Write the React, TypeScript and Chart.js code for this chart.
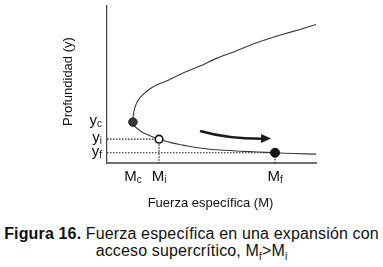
import React, { useEffect, useRef } from "react";
import { Chart, registerables } from "chart.js";

Chart.register(...registerables);

// Specific-force curve (M, y), upper branch then lower branch
const curveM = [10, 9.23, 8.42, 7.66, 6.84, 6.03, 5.26, 4.45, 3.64, 2.87, 2.44, 2.06, 1.72, 1.48, 1.34, 1.27, 1.25, 1.24, 1.31, 1.46, 1.67, 1.91, 2.2, 2.49, 2.82, 3.16, 3.64, 4.11, 4.93, 5.65, 6.36, 7.22, 8.04, 8.99, 10];
const curveY = [7.04, 6.79, 6.54, 6.29, 5.99, 5.63, 5.33, 4.93, 4.58, 4.18, 4.0, 3.77, 3.47, 3.17, 2.84, 2.52, 2.29, 2.08, 1.89, 1.74, 1.58, 1.46, 1.32, 1.21, 1.11, 1.01, 0.91, 0.81, 0.7, 0.65, 0.6, 0.56, 0.52, 0.48, 0.45];

// Key states: critical, initial, final
const pointNames = ["c", "i", "f"];
const pointM = [1.24, 2.49, 8.04];
const pointY = [2.08, 1.21, 0.52];
const pointFill = ["#3a3a3a", "#ffffff", "#111111"];

// Arrow (start, control, tip) in data units
const arrowM = [4.5, 5.79, 7.85];
const arrowY = [1.61, 1.22, 1.24];

const xTitle = "Fuerza específica (M)";
const yTitle = "Profundidad (y)";

const FONT = '"Liberation Sans", Arial, sans-serif';

function drawSub(ctx: CanvasRenderingContext2D, main: string, sub: string, x: number, y: number, align: "right" | "center") {
  ctx.save();
  ctx.textAlign = "left";
  ctx.textBaseline = "alphabetic";
  ctx.font = `15px ${FONT}`;
  const wm = ctx.measureText(main).width;
  ctx.font = `10px ${FONT}`;
  const ws = ctx.measureText(sub).width;
  const total = wm + ws;
  const sx = align === "right" ? x - total : x - total / 2;
  ctx.font = `15px ${FONT}`;
  ctx.fillText(main, sx, y);
  ctx.font = `10px ${FONT}`;
  ctx.fillText(sub, sx + wm, y + 2);
  ctx.restore();
}

const annotPlugin = {
  id: "annot",
  afterDraw(chart: any) {
    const ctx: CanvasRenderingContext2D = chart.ctx;
    const xs = chart.scales.x;
    const ys = chart.scales.y;
    const area = chart.chartArea;
    ctx.save();
    ctx.fillStyle = "#111";
    for (let i = 0; i < pointNames.length; i++) {
      const px = xs.getPixelForValue(pointM[i]);
      const py = ys.getPixelForValue(pointY[i]);
      drawSub(ctx, "y", pointNames[i], area.left - 5, py + 3, "right");
      drawSub(ctx, "M", pointNames[i], px, area.bottom + 18, "center");
    }
    ctx.font = `13px ${FONT}`;
    ctx.textAlign = "center";
    ctx.textBaseline = "alphabetic";
    ctx.fillText(xTitle, (area.left + area.right) / 2 - 1, area.bottom + 44);
    ctx.save();
    ctx.translate(area.left - 39, area.top + 76);
    ctx.rotate(-Math.PI / 2);
    ctx.textBaseline = "middle";
    ctx.fillText(yTitle, 0, 0);
    ctx.restore();
    const p0x = xs.getPixelForValue(arrowM[0]);
    const p0y = ys.getPixelForValue(arrowY[0]);
    const cx = xs.getPixelForValue(arrowM[1]);
    const cy = ys.getPixelForValue(arrowY[1]);
    const tx = xs.getPixelForValue(arrowM[2]);
    const ty = ys.getPixelForValue(arrowY[2]);
    ctx.strokeStyle = "#1a1a1a";
    ctx.lineWidth = 2.6;
    ctx.lineCap = "round";
    ctx.beginPath();
    ctx.moveTo(p0x, p0y);
    ctx.quadraticCurveTo(cx, cy, tx - 8, ty + 0.2);
    ctx.stroke();
    ctx.fillStyle = "#1a1a1a";
    ctx.beginPath();
    ctx.moveTo(tx, ty);
    ctx.lineTo(tx - 10, ty - 4.5);
    ctx.lineTo(tx - 10, ty + 4.5);
    ctx.closePath();
    ctx.fill();
    ctx.restore();
  },
};

export default function App() {
  const ref = useRef<HTMLCanvasElement>(null);
  useEffect(() => {
    const canvas = ref.current!;
    const curve = curveM.map((m, i) => ({ x: m, y: curveY[i] }));
    const pts = pointM.map((m, i) => ({ x: m, y: pointY[i] }));
    const dotI = [
      { x: 0, y: pointY[1] },
      { x: pointM[1], y: pointY[1] },
      { x: pointM[1], y: 0 },
    ];
    const dotF = [
      { x: 0, y: pointY[2] },
      { x: pointM[2], y: pointY[2] },
      { x: pointM[2], y: 0 },
    ];
    const chart = new Chart(canvas, {
      type: "scatter",
      data: {
        datasets: [
          {
            data: pts,
            order: 0,
            showLine: false,
            pointRadius: [4.2, 3.8, 4.5],
            pointBackgroundColor: pointFill,
            pointBorderColor: "#111",
            pointBorderWidth: [1, 1.6, 1],
          } as any,
          {
            data: curve,
            order: 2,
            showLine: true,
            tension: 0.3,
            borderColor: "#3a3a3a",
            borderWidth: 1.1,
            pointRadius: 0,
          },
          {
            data: dotI,
            order: 3,
            showLine: true,
            tension: 0,
            borderColor: "#222",
            borderWidth: 1.2,
            borderDash: [1.5, 1.5],
            pointRadius: 0,
          },
          {
            data: dotF,
            order: 3,
            showLine: true,
            tension: 0,
            borderColor: "#222",
            borderWidth: 1.2,
            borderDash: [1.5, 1.5],
            pointRadius: 0,
          },
        ],
      },
      options: {
        animation: false,
        responsive: false,
        devicePixelRatio: 1,
        layout: { padding: { left: 107, right: 67, top: 4, bottom: 52 } },
        plugins: { legend: { display: false }, tooltip: { enabled: false } },
        scales: {
          x: {
            type: "linear",
            min: 0,
            max: 10,
            ticks: { display: false },
            grid: { display: false, drawTicks: false },
            border: { display: true, color: "#6f6f6f", width: 2 },
          },
          y: {
            type: "linear",
            min: 0,
            max: 8,
            ticks: { display: false },
            grid: { display: false, drawTicks: false },
            border: { display: true, color: "#4a4a4a", width: 1.3 },
          },
        },
      },
      plugins: [annotPlugin],
    });
    return () => chart.destroy();
  }, []);

  return (
    <div style={{ position: "fixed", left: 0, top: 0, width: 383, height: 267, background: "#fff", overflow: "hidden" }}>
      <canvas ref={ref} width={383} height={215} style={{ position: "absolute", left: 0, top: 0, width: 383, height: 215 }} />
      <div
        style={{
          position: "absolute",
          left: 0,
          top: 225,
          width: 383,
          textAlign: "center",
          fontFamily: FONT,
          fontSize: 16,
          lineHeight: "17px",
          letterSpacing: "0.15px",
          color: "#111",
        }}
      >
        <b>Figura 16.</b> Fuerza específica en una expansión con
        <br />
        acceso supercrítico, M<sub style={{ fontSize: 10, lineHeight: 0 }}>f</sub>&gt;M<sub style={{ fontSize: 10, lineHeight: 0 }}>i</sub>
      </div>
    </div>
  );
}
